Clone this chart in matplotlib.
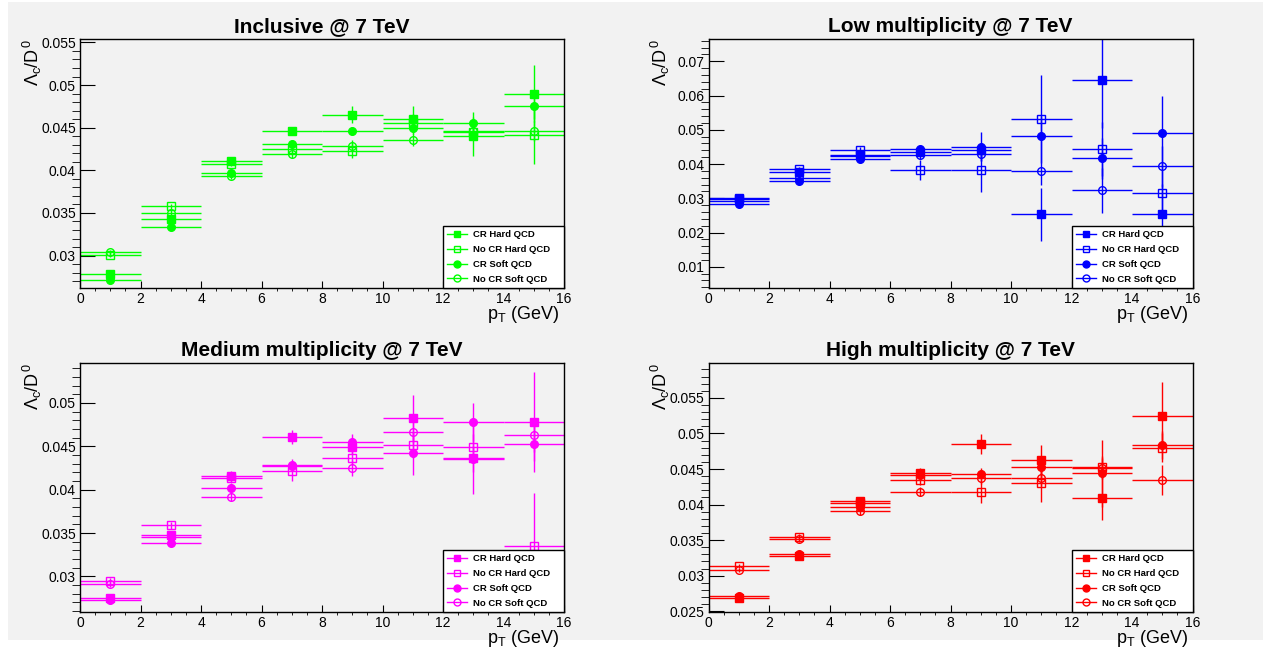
import numpy as np
import matplotlib
matplotlib.use("Agg")
import matplotlib.pyplot as plt
from matplotlib.lines import Line2D
from matplotlib.patches import Rectangle
from matplotlib.ticker import MultipleLocator, FormatStrFormatter

plt.rcParams['font.family'] = ['Liberation Sans', 'DejaVu Sans']
plt.rcParams['mathtext.fontset'] = 'custom'
plt.rcParams['mathtext.rm'] = 'Liberation Sans'
plt.rcParams['mathtext.it'] = 'Liberation Sans'

# pT bin centres and half widths (GeV)
pt = [1, 3, 5, 7, 9, 11, 13, 15]
pt_halfwidth = 1.0

series_labels = ["CR Hard QCD", "No CR Hard QCD", "CR Soft QCD", "No CR Soft QCD"]

# Inclusive
incl_cr_hard = [0.0278, 0.0343, 0.0411, 0.0446, 0.0465, 0.0460, 0.0440, 0.0490]
incl_cr_hard_err = [0.0003, 0.0003, 0.0003, 0.0005, 0.0010, 0.0015, 0.0023, 0.0033]
incl_nocr_hard = [0.0301, 0.0358, 0.0408, 0.0425, 0.0423, 0.0456, 0.0445, 0.0442]
incl_nocr_hard_err = [0.0003, 0.0003, 0.0003, 0.0004, 0.0009, 0.0010, 0.0010, 0.0035]
incl_cr_soft = [0.0271, 0.0333, 0.0397, 0.0431, 0.0446, 0.0450, 0.0456, 0.0475]
incl_cr_soft_err = [0.0003, 0.0003, 0.0003, 0.0004, 0.0005, 0.0007, 0.0012, 0.0015]
incl_nocr_soft = [0.0304, 0.0350, 0.0393, 0.0419, 0.0429, 0.0436, 0.0446, 0.0446]
incl_nocr_soft_err = [0.0002, 0.0003, 0.0003, 0.0004, 0.0006, 0.0008, 0.0009, 0.0012]

# Low multiplicity
low_cr_hard = [0.0297, 0.0376, 0.0426, 0.0436, 0.0440, 0.0253, 0.0645, 0.0253]
low_cr_hard_err = [0.0005, 0.0007, 0.0008, 0.0012, 0.0020, 0.0078, 0.0140, 0.0090]
low_nocr_hard = [0.0301, 0.0384, 0.0440, 0.0383, 0.0383, 0.0531, 0.0444, 0.0314]
low_nocr_hard_err = [0.0005, 0.0008, 0.0010, 0.0030, 0.0064, 0.0128, 0.0080, 0.0070]
low_cr_soft = [0.0283, 0.0351, 0.0414, 0.0443, 0.0451, 0.0481, 0.0417, 0.0492]
low_cr_soft_err = [0.0004, 0.0006, 0.0008, 0.0010, 0.0042, 0.0060, 0.0060, 0.0106]
low_nocr_soft = [0.0291, 0.0359, 0.0423, 0.0425, 0.0428, 0.0380, 0.0323, 0.0394]
low_nocr_soft_err = [0.0004, 0.0006, 0.0008, 0.0010, 0.0020, 0.0040, 0.0065, 0.0060]

# Medium multiplicity
med_cr_hard = [0.0275, 0.0348, 0.0416, 0.0461, 0.0449, 0.0483, 0.0436, 0.0478]
med_cr_hard_err = [0.0003, 0.0004, 0.0006, 0.0008, 0.0008, 0.0026, 0.0041, 0.0058]
med_nocr_hard = [0.0295, 0.0359, 0.0414, 0.0421, 0.0436, 0.0451, 0.0449, 0.0335]
med_nocr_hard_err = [0.0003, 0.0004, 0.0006, 0.0011, 0.0008, 0.0015, 0.0015, 0.0061]
med_cr_soft = [0.0273, 0.0339, 0.0402, 0.0429, 0.0455, 0.0442, 0.0478, 0.0453]
med_cr_soft_err = [0.0003, 0.0004, 0.0005, 0.0006, 0.0009, 0.0025, 0.0022, 0.0020]
med_nocr_soft = [0.0291, 0.0346, 0.0392, 0.0427, 0.0425, 0.0466, 0.0435, 0.0463]
med_nocr_soft_err = [0.0003, 0.0004, 0.0005, 0.0006, 0.0009, 0.0012, 0.0015, 0.0020]

# High multiplicity
high_cr_hard = [0.0269, 0.0328, 0.0405, 0.0444, 0.0485, 0.0463, 0.0409, 0.0524]
high_cr_hard_err = [0.0003, 0.0003, 0.0005, 0.0007, 0.0014, 0.0021, 0.0031, 0.0048]
high_nocr_hard = [0.0314, 0.0355, 0.0402, 0.0435, 0.0418, 0.0430, 0.0453, 0.0480]
high_nocr_hard_err = [0.0003, 0.0004, 0.0005, 0.0008, 0.0016, 0.0026, 0.0015, 0.0020]
high_cr_soft = [0.0271, 0.0330, 0.0396, 0.0441, 0.0443, 0.0453, 0.0444, 0.0484]
high_cr_soft_err = [0.0003, 0.0003, 0.0005, 0.0007, 0.0009, 0.0014, 0.0047, 0.0020]
high_nocr_soft = [0.0308, 0.0352, 0.0391, 0.0418, 0.0438, 0.0438, 0.0451, 0.0435]
high_nocr_soft_err = [0.0003, 0.0004, 0.0005, 0.0006, 0.0009, 0.0012, 0.0015, 0.0021]

panels = [
    ("Inclusive @ 7 TeV", '#00ff00', (0.0262, 0.0554), 0.005, 0.001,
     [(incl_cr_hard, incl_cr_hard_err), (incl_nocr_hard, incl_nocr_hard_err),
      (incl_cr_soft, incl_cr_soft_err), (incl_nocr_soft, incl_nocr_soft_err)]),
    ("Low multiplicity @ 7 TeV", '#0000ff', (0.0038, 0.0765), 0.01, 0.002,
     [(low_cr_hard, low_cr_hard_err), (low_nocr_hard, low_nocr_hard_err),
      (low_cr_soft, low_cr_soft_err), (low_nocr_soft, low_nocr_soft_err)]),
    ("Medium multiplicity @ 7 TeV", '#ff00ff', (0.0259, 0.0546), 0.005, 0.001,
     [(med_cr_hard, med_cr_hard_err), (med_nocr_hard, med_nocr_hard_err),
      (med_cr_soft, med_cr_soft_err), (med_nocr_soft, med_nocr_soft_err)]),
    ("High multiplicity @ 7 TeV", '#ff0000', (0.0249, 0.0599), 0.005, 0.001,
     [(high_cr_hard, high_cr_hard_err), (high_nocr_hard, high_nocr_hard_err),
      (high_cr_soft, high_cr_soft_err), (high_nocr_soft, high_nocr_soft_err)]),
]

markers = ['s', 's', 'o', 'o']
filled = [True, False, True, False]

W, H = 1263, 648
bg = '#f2f2f2'
fig = plt.figure(figsize=(W / 100, H / 100), dpi=100)
fig.patches.append(Rectangle((8 / W, 8 / H), 1 - 8 / W, 1 - 10 / H,
                             transform=fig.transFigure, facecolor=bg,
                             edgecolor='none', zorder=-10))

# axes positions in pixels: left, top
origins = [(80, 39), (708.6, 39), (80, 363), (708.6, 363)]
aw, ah = 484, 249

for (title, color, ylim, major, minor, data), (x0, y0) in zip(panels, origins):
    ax = fig.add_axes([x0 / W, 1 - (y0 + ah) / H, aw / W, ah / H])
    ax.set_facecolor(bg)
    for (vals, errs), m, f in zip(data, markers, filled):
        ax.errorbar(pt, vals, xerr=pt_halfwidth, yerr=errs, fmt=m, color=color,
                    mfc=color if f else 'none', mec=color, ms=5.5, mew=1,
                    elinewidth=1, capsize=0)
    ax.set_xlim(0, 16)
    ax.set_ylim(*ylim)
    ax.xaxis.set_major_locator(MultipleLocator(2))
    ax.xaxis.set_minor_locator(MultipleLocator(0.5))
    ax.yaxis.set_major_locator(MultipleLocator(major))
    ax.yaxis.set_minor_locator(MultipleLocator(minor))
    ax.yaxis.set_major_formatter(FormatStrFormatter('%g'))
    ax.tick_params(direction='in', labelsize=10, pad=3)
    ax.tick_params(axis='x', which='major', length=5)
    ax.tick_params(axis='x', which='minor', length=2.5)
    ax.tick_params(axis='y', which='major', length=11)
    ax.tick_params(axis='y', which='minor', length=5.5)
    for s in ax.spines.values():
        s.set_linewidth(1)
    ax.set_title(title, fontsize=15, fontweight='bold', pad=5)
    ax.set_ylabel(r'$\Lambda_c/D^0$', fontsize=13, loc='top')
    ax.yaxis.set_label_coords(-0.075, 1.0)
    ax.set_xlabel(r'$p_T$ (GeV)', fontsize=13, loc='right')
    ax.xaxis.set_label_coords(0.99, -0.065)

    handles = [Line2D([], [], color=color, marker=m, ms=5, lw=1,
                      mfc=color if f else 'none', mec=color)
               for m, f in zip(markers, filled)]
    leg = ax.legend(handles, series_labels, loc='lower left', mode='expand',
                    bbox_to_anchor=(0.75, 0, 0.25, 0.245), borderaxespad=0,
                    fancybox=False, edgecolor='black', framealpha=1,
                    facecolor='white', prop={'size': 6.8, 'weight': 'bold'},
                    handlelength=2.1, labelspacing=0.62, borderpad=0.45,
                    handletextpad=0.65)
    leg.get_frame().set_linewidth(1)

fig.savefig('out.png', dpi=100)
